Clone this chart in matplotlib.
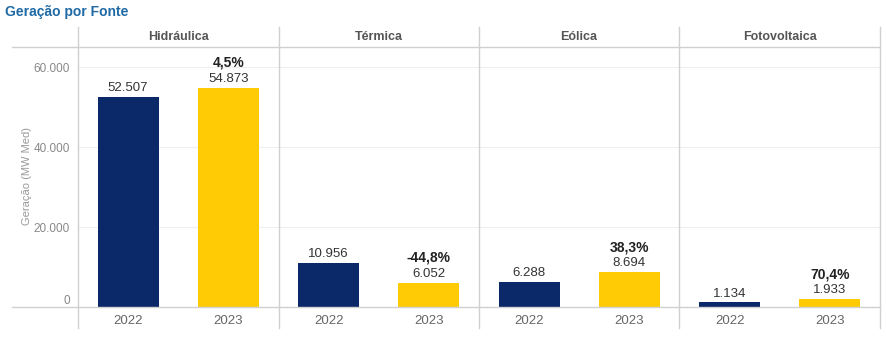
import matplotlib
matplotlib.use("Agg")
import matplotlib.pyplot as plt
from matplotlib.lines import Line2D

plt.rcParams['font.family'] = ['Liberation Sans', 'DejaVu Sans']

fontes = ["Hidráulica", "Térmica", "Eólica", "Fotovoltaica"]
anos = ["2022", "2023"]
valores_2022 = [52507, 10956, 6288, 1134]
valores_2023 = [54873, 6052, 8694, 1933]
variacao = ["4,5%", "-44,8%", "38,3%", "70,4%"]
yticks = [0, 20000, 40000, 60000]
ytick_labels = ["0", "20.000", "40.000", "60.000"]

cor_2022 = "#0B2969"
cor_2023 = "#FFCB05"
cinza_linha = "#D0D0D0"

W, H = 886, 338
fig = plt.figure(figsize=(W / 100, H / 100), dpi=100)

x0, x1 = 78, 880
y_zero, y_top = 307, 47
ax = fig.add_axes([x0 / W, 1 - y_zero / H, (x1 - x0) / W, (y_zero - y_top) / H])
ax.set_xlim(-0.5, 7.5)
ax.set_ylim(0, 20000 * (y_zero - y_top) / 80)

for s in ax.spines.values():
    s.set_visible(False)

# light gridlines
for v in yticks[1:]:
    ax.axhline(v, color="#EFEFEF", lw=0.8, zorder=0)

pos_2022 = [2 * i for i in range(len(fontes))]
pos_2023 = [2 * i + 1 for i in range(len(fontes))]
bw = 0.61
ax.bar(pos_2022, valores_2022, width=bw, color=cor_2022, zorder=2)
ax.bar(pos_2023, valores_2023, width=bw, color=cor_2023, zorder=2)

lab_kw = dict(ha="center", va="bottom", textcoords="offset points", fontsize=9.5, color="#333333")
for x, v in zip(pos_2022, valores_2022):
    ax.annotate(f"{v:,}".replace(",", "."), (x, v), xytext=(0, 2), **lab_kw)
for x, v, p in zip(pos_2023, valores_2023, variacao):
    ax.annotate(f"{v:,}".replace(",", "."), (x, v), xytext=(0, 2), **lab_kw)
    ax.annotate(p, (x, v), xytext=(0, 13), ha="center", va="bottom",
                textcoords="offset points", fontsize=10, fontweight="bold", color="#222222")

ax.set_xticks(pos_2022 + pos_2023)
ax.set_xticklabels(anos[:1] * len(fontes) + anos[1:] * len(fontes))
ax.tick_params(axis="x", length=0, pad=6, labelsize=9.5, labelcolor="#666666")
ax.set_yticks(yticks)
ax.set_yticklabels(ytick_labels)
ax.tick_params(axis="y", length=0, pad=6, labelsize=8.5, labelcolor="#888888")
ax.get_yticklabels()[0].set_y(0)
for lbl in ax.get_yticklabels()[:1]:
    lbl.set_verticalalignment("bottom")

fig.text(27 / W, 1 - 176 / H, "Geração (MW Med)", rotation=90, ha="center", va="center",
         fontsize=8, color="#999999")

# panel frame lines in pixel space
def px_line(xs, ys, **kw):
    fig.add_artist(Line2D([x / W for x in xs], [1 - y / H for y in ys],
                          transform=fig.transFigure, **kw))

for xd in [78, 279, 479, 679, 880]:
    px_line([xd, xd], [27, 328], color=cinza_linha, lw=1)
px_line([12, 880], [47, 47], color=cinza_linha, lw=1)
px_line([12, 880], [307, 307], color=cinza_linha, lw=1)

centers = [178.5, 379, 579, 779.5]
for c, nome in zip(centers, fontes):
    fig.text(c / W, 1 - 37 / H, nome, ha="center", va="center",
             fontsize=9, fontweight="bold", color="#555555")

fig.text(5 / W, 1 - 12 / H, "Geração por Fonte", ha="left", va="center",
         fontsize=10, fontweight="bold", color="#1F6AA5")

fig.savefig("out.png", dpi=100, facecolor="white")
